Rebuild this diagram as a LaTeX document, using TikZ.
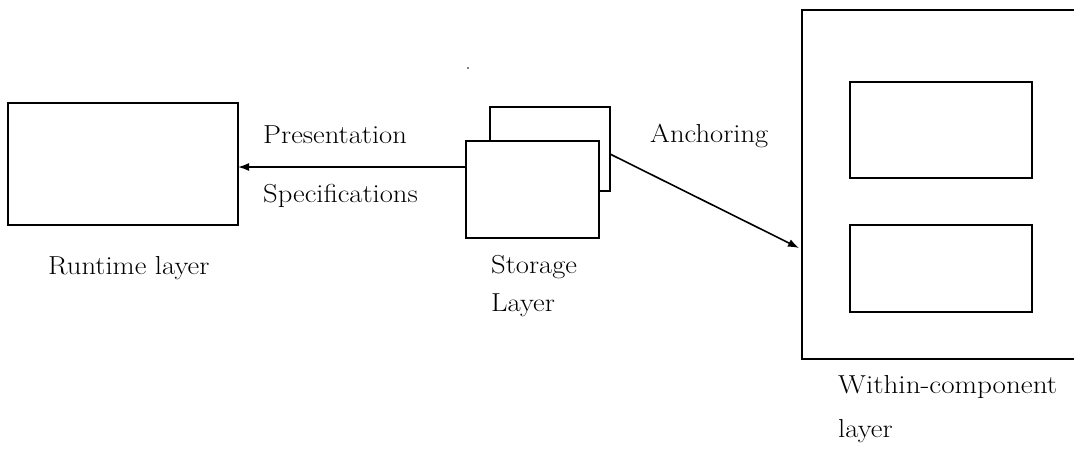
\documentclass[tikz,border=0pt]{standalone}
\usepackage{graphicx}
\usetikzlibrary{arrows.meta}
\newcommand{\wide}[2][1.1]{\scalebox{#1}[1]{#2}}
\begin{document}
\begin{tikzpicture}[x=1pt,y=-1pt,
  box/.style={draw,line width=1.8pt,fill=white,inner sep=0pt,outer sep=0pt},
  lbl/.style={anchor=base west,inner sep=0pt,font=\fontsize{26}{31}\selectfont},
  conn/.style={line width=1.6pt,-{Latex[length=11pt,width=8pt]}}]
\useasboundingbox (0,0) rectangle (1074,448);
\begin{scope}
\clip (0,0) rectangle (1074,448);
% runtime layer box
\node[box,minimum width=230pt,minimum height=122pt] (rt) at (123,164) {};
% storage boxes
\node[box,minimum width=120pt,minimum height=84pt] (sback) at (550,149) {};
\node[box,minimum width=133pt,minimum height=97pt] (sfront) at (532.5,189.5) {};
% within-component outer box (extends past the right edge)
\node[box,minimum width=300pt,minimum height=349pt] (wc) at (952,184.5) {};
\node[box,minimum width=182pt,minimum height=96pt] (in1) at (941,130) {};
\node[box,minimum width=182pt,minimum height=87pt] (in2) at (941,268.5) {};
\end{scope}
% connectors
\draw[conn] (sfront.west |- 0,167) -- (rt.east |- 0,167);
\coordinate (astart) at (sback.east |- 0,154);
\coordinate (aend) at (wc.west |- 0,248);
\draw[conn] (astart) -- ([xshift=-3pt]aend);
% stray dot
\fill (468,68) circle (0.8pt);
% labels
\node[lbl] (tpres) at (263,143) {\wide{Presentation}};
\node[lbl] (tspec) at (263,202) {\wide{Specifications}};
\node[lbl] (tanch) at (650,142) {\wide{Anchoring}};
\node[lbl] (trt) at (48,274) {\wide{Runtime layer}};
\node[lbl] (tst1) at (491,273) {\wide{Storage}};
\node[lbl] (tst2) at (491,311) {\wide{Layer}};
\node[lbl] (twc1) at (838,393) {\wide[1.12]{Within-component}};
\node[lbl] (twc2) at (838,437) {\wide{layer}};
\end{tikzpicture}
\end{document}
